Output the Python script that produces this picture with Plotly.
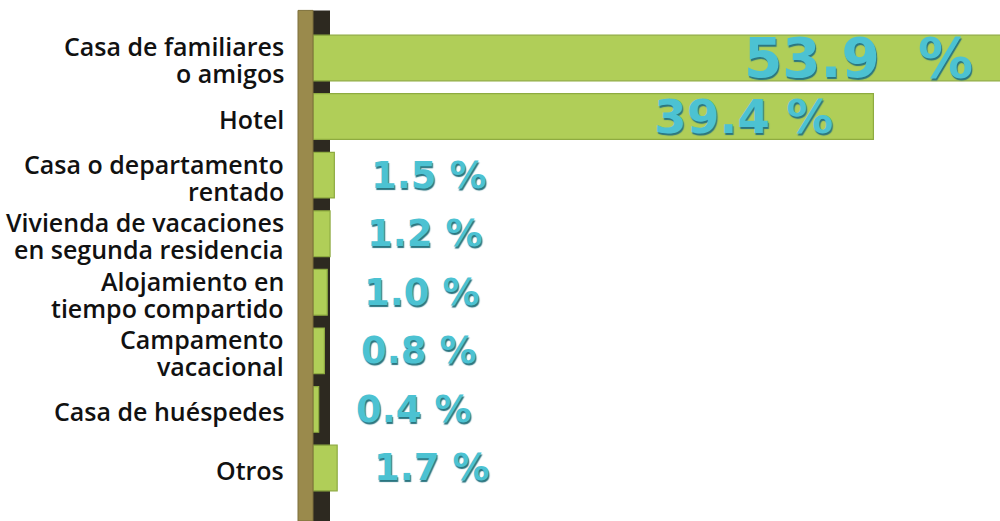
import plotly.graph_objects as go

# Tipo de alojamiento (porcentaje)
categories = [
    "Casa de familiares<br>o amigos",
    "Hotel",
    "Casa o departamento<br>rentado",
    "Vivienda de vacaciones<br>en segunda residencia",
    "Alojamiento en<br>tiempo compartido",
    "Campamento<br>vacacional",
    "Casa de huéspedes",
    "Otros",
]
values = [53.9, 39.4, 1.5, 1.2, 1.0, 0.8, 0.4, 1.7]
value_labels = ["53.9  %", "39.4 %", "1.5 %", "1.2 %", "1.0 %", "0.8 %", "0.4 %", "1.7 %"]

GREEN = "#b0ce58"
CYAN = "#4cc2d2"
XMAX = 48.3

fig = go.Figure()
fig.add_trace(go.Bar(
    x=values, y=categories, orientation="h",
    width=0.78,
    marker=dict(color=GREEN, line=dict(color="#8eab40", width=1.2)),
    hoverinfo="skip",
))

# category labels, one annotation per line so the lines sit tight
for cat in categories:
    lines = cat.split("<br>")
    n = len(lines)
    for i, line in enumerate(lines):
        fig.add_annotation(
            x=0, xref="paper", y=cat, yref="y",
            text=line, showarrow=False,
            xanchor="right", xshift=-27,
            yshift=(n - 1) * 13.5 - i * 27 - 2,
            font=dict(family="Open Sans", size=25, weight=600, color="#111111"),
        )

# value labels: inside for big bars, outside for small ones
for cat, v, lab in zip(categories, values, value_labels):
    big = v > 10
    if v > 50:
        size, shift = 55, -25
    elif big:
        size, shift = 47, -38
    else:
        size, shift = 37, 35
    fig.add_annotation(
        x=min(v, XMAX), y=cat,
        text=lab, showarrow=False,
        xanchor="right" if big else "left",
        xshift=shift,
        font=dict(family="DejaVu Sans", size=size, weight="bold", color=CYAN,
                  shadow="1px 2px 1px #2a7580"),
    )

# wooden pole behind the bars
fig.add_shape(type="rect", xref="paper", yref="paper", xsizemode="pixel", xanchor=0,
              x0=0, x1=17, y0=0, y1=0.98, fillcolor="#2d2920", line_width=0, layer="below")
fig.add_shape(type="rect", xref="paper", yref="paper", xsizemode="pixel", xanchor=0,
              x0=-15, x1=0, y0=0, y1=0.98, fillcolor="#9a8a4c",
              line=dict(color="#7d6f3a", width=1), layer="above")

fig.update_layout(
    width=1000, height=521,
    margin=dict(l=313, r=0, t=0, b=0),
    paper_bgcolor="white", plot_bgcolor="white",
    showlegend=False,
    bargap=0.2,
)
fig.update_xaxes(range=[0, XMAX], visible=False)
fig.update_yaxes(
    range=[7.905, -0.99],
    showgrid=False, zeroline=False, showline=False,
    showticklabels=False, ticks="",
)

fig.write_html("out.html", config={"displayModeBar": False},
               post_script="document.body.style.margin='0';")
